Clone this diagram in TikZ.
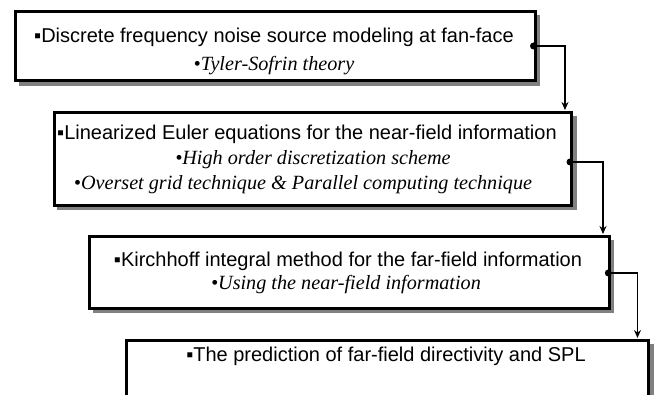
\documentclass[tikz,border=0pt]{standalone}
\usepackage{fontspec}
\setmainfont{Liberation Serif}
\newfontfamily\headfont{Liberation Sans}
\usetikzlibrary{arrows.meta}
\tikzset{
  stagebox/.style={draw=black, line width=3pt, fill=white, anchor=north west, inner sep=0pt},
  stageshadow/.style={fill=black!50, draw=none},
  headline/.style={font=\headfont\fontsize{20}{24}\selectfont, inner sep=0pt, anchor=base},
  subline/.style={font=\itshape\fontsize{20.2}{24}\selectfont, inner sep=0pt, anchor=base},
  link/.style={line width=1.4pt, -{Stealth[length=8pt,width=7pt]}},
  joint/.style={circle, fill=black, inner sep=0pt, minimum size=7pt}
}
\begin{document}
\begin{tikzpicture}[x=1pt, y=-1pt]
\useasboundingbox (0,0) rectangle (654,395);
% drop shadows, offset down and to the right
\fill[stageshadow] (18.5,15) rectangle (540,86);
\fill[stageshadow] (57,116) rectangle (576.5,210.5);
\fill[stageshadow] (92.5,240) rectangle (614,313);
\fill[stageshadow] (129.5,344) rectangle (654,410);
% stage boxes
\node[stagebox, minimum width=519.5pt, minimum height=69pt] (b1) at (14,10.5) {};
\node[stagebox, minimum width=517.5pt, minimum height=92.5pt] (b2) at (52.5,111.5) {};
\node[stagebox, minimum width=520pt, minimum height=72pt] (b3) at (88.3,235.5) {};
\node[stagebox, minimum width=522pt, minimum height=80pt] (b4) at (125,339.5) {};
% texts
\node[headline] (t1a) at (274,43) {▪Discrete frequency noise source modeling at fan-face};
\node[subline] (t1b) at (274,71) {•Tyler-Sofrin theory};
\node[headline] (t2a) at (307,140) {▪Linearized Euler equations for the near-field information};
\node[subline] (t2b) at (313,165) {•High order discretization scheme};
\node[subline] (t2c) at (303,190) {•Overset grid technique \& Parallel computing technique};
\node[headline] (t3a) at (348,267) {▪Kirchhoff integral method for the far-field information};
\node[subline] (t3b) at (346,290) {•Using the near-field information};
\node[headline] (t4a) at (386,362) {▪The prediction of far-field directivity and SPL};
% connectors between the stages
\coordinate (o1) at (533.5,46);
\coordinate (o2) at (570,162);
\coordinate (o3) at (608.3,273);
\coordinate (i2) at (565,110);
\coordinate (i3) at (603,234);
\coordinate (i4) at (637.5,338);
\draw[link] (o1) -| (i2);
\draw[link] (o2) -| (i3);
\draw[link] (o3) -| (i4);
\node[joint] (d1) at (o1) {};
\node[joint] (d2) at (o2) {};
\node[joint] (d3) at (o3) {};
\end{tikzpicture}
\end{document}
